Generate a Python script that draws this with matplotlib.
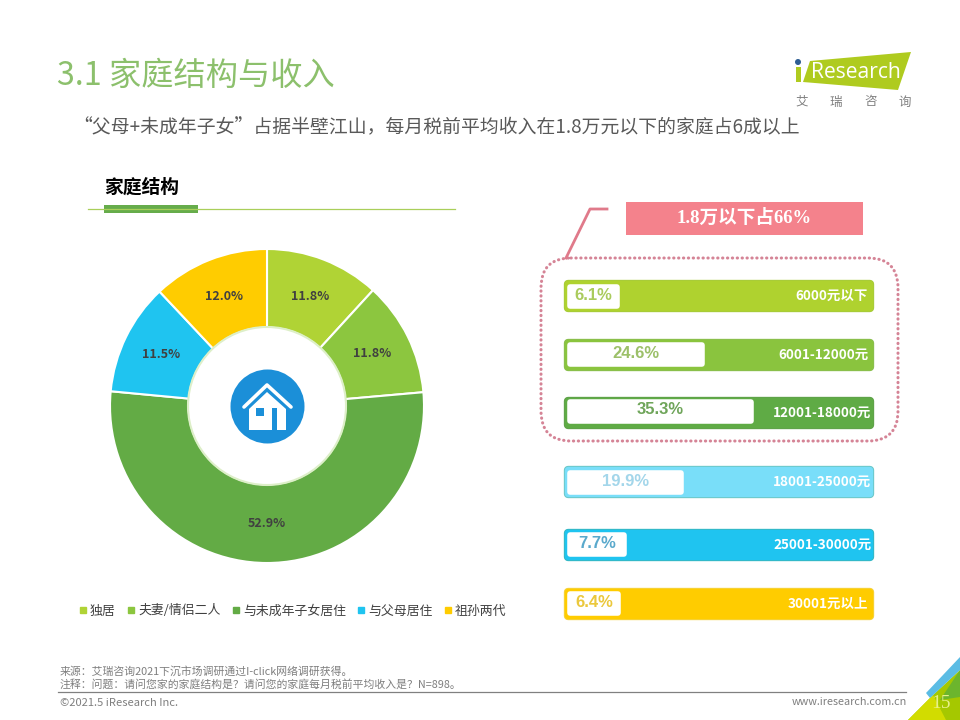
import matplotlib
matplotlib.use("Agg")
import matplotlib.pyplot as plt
from matplotlib.lines import Line2D
from matplotlib.patches import Circle, FancyBboxPatch, Polygon, Rectangle

plt.rcParams['font.family'] = ['Noto Sans CJK SC', 'DejaVu Sans']

# data
family_labels = ['独居', '夫妻/情侣二人', '与未成年子女居住', '与父母居住', '祖孙两代']
family_values = [11.8, 11.8, 52.9, 11.5, 12.0]
family_colors = ['#B0D335', '#8CC63F', '#63AB45', '#1FC4F0', '#FFCC00']

income_labels = ['6000元以下', '6001-12000元', '12001-18000元',
                 '18001-25000元', '25001-30000元', '30001元以上']
income_values = [6.1, 24.6, 35.3, 19.9, 7.7, 6.4]
income_colors = ['#AFD22F', '#8AC43E', '#5FAB45', '#79DEF9', '#1FC4F0', '#FFCC00']
income_borders = ['#A8CC3A', '#8ABF4E', '#5FA24A', '#6CC8C8', '#35B8C4', '#F5D23C']
income_text = ['#AACB5C', '#9CC069', '#6FA55A', '#A3D6EA', '#5AA9CC', '#EBC83C']

W, H = 960, 720
fig = plt.figure(figsize=(9.6, 7.2), dpi=100)
ax = fig.add_axes([0, 0, 1, 1])
ax.set_xlim(0, W)
ax.set_ylim(H, 0)
ax.axis('off')


def px_axes(x0, y0, x1, y1):
    return fig.add_axes([x0 / W, 1 - y1 / H, (x1 - x0) / W, (y1 - y0) / H])


# header
ax.text(57, 76, '3.1 家庭结构与收入', fontsize=23.2, color='#8CC06C', va='center')
ax.text(73, 128, '“父母+未成年子女”占据半壁江山，每月税前平均收入在1.8万元以下的家庭占6成以上',
        fontsize=13.55, color='#595959', va='center')

# logo
ax.add_patch(Polygon([(810, 61), (911, 52), (898, 90), (803, 82)], color='#AFCB1F', lw=0))
ax.add_patch(Circle((798, 62), 3, color='#2F5E93', lw=0))
ax.add_patch(Rectangle((796, 67), 4.5, 15, color='#AFCB1F', lw=0))
ax.text(811, 72, 'Research', fontsize=15.2, color='white', va='center',
        family=['Open Sans', 'DejaVu Sans'])
for x, ch in zip([802, 836, 871, 905], '艾瑞咨询'):
    ax.text(x, 102, ch, fontsize=9, color='#7F7F7F', ha='center', va='center')

# section title
ax.text(104, 187, '家庭结构', fontsize=13.5, fontweight='bold', color='black', va='center')
ax.plot([88, 455], [209, 209], color='#A9CF5A', lw=0.9)
ax.add_patch(Rectangle((104, 205), 94, 8, color='#66AC4B', lw=0))

# donut
pie_ax = px_axes(110, 249, 424, 563)
wedges, _, autotexts = pie_ax.pie(
    family_values, colors=family_colors, startangle=90, counterclock=False,
    radius=1, autopct='%.1f%%', pctdistance=0.75,
    wedgeprops={'width': 0.5, 'edgecolor': 'white', 'linewidth': 1.5},
    textprops={'fontsize': 9, 'fontweight': 'bold', 'color': '#404040'})
pie_ax.set_xlim(-1, 1)
pie_ax.set_ylim(-1, 1)
pie_ax.patch.set_alpha(0)

# icon in the hole
icon_ax = px_axes(110, 249, 424, 563)
icon_ax.set_xlim(110, 424)
icon_ax.set_ylim(563, 249)
icon_ax.axis('off')
icon_ax.add_patch(Circle((267, 406), 79, facecolor='white', edgecolor='#DDEFC8', lw=1.5))
icon_ax.add_patch(Circle((267.5, 406.5), 37, color='#1B8FD8', lw=0))
icon_ax.add_patch(Polygon([(267, 392), (286, 409), (286, 430), (249, 430), (249, 409)],
                          color='white', lw=0))
icon_ax.plot([244, 267, 291], [407, 385, 407], color='white', lw=2.6, solid_capstyle='round')
icon_ax.add_patch(Rectangle((256, 408), 8, 8, color='#1B8FD8', lw=0))
icon_ax.add_patch(Rectangle((272, 408), 5, 22, color='#1B8FD8', lw=0))

# legend
handles = [Line2D([], [], marker='s', ls='', color=c, markersize=5) for c in family_colors]
fig.legend(handles, family_labels, loc='center left', bbox_to_anchor=(70 / W, 1 - 611 / H),
           ncol=5, frameon=False, fontsize=9.3, labelcolor='#404040', handletextpad=0.05,
           columnspacing=0.68, borderpad=0, handlelength=1.0)

# income bars: x is percent, y is pixels because the rows are not evenly spaced
bar_ax = px_axes(560, 270, 880, 630)
zero_px, px_per_unit = 589, 4.6
bar_ax.set_xlim((560 - zero_px) / px_per_unit, (880 - zero_px) / px_per_unit)
bar_ax.set_ylim(630, 270)
bar_ax.axis('off')
track_y = [296, 354.5, 413, 481.5, 545, 603.5]
fill_y = [296, 354.5, 411, 482, 544.5, 603.5]
start = -4.2
track_left = (568 - zero_px) / px_per_unit
track_width = (870 - 568) / px_per_unit
bar_ax.barh(track_y, track_width, left=track_left, height=24, color=income_borders,
            edgecolor=income_borders, linewidth=6, joinstyle='round')
bar_ax.barh(track_y, track_width, left=track_left, height=24, color=income_colors,
            edgecolor=income_colors, linewidth=4.5, joinstyle='round')
bar_ax.barh(fill_y, [v - start for v in income_values], left=start, height=19,
            color='white', edgecolor='white', linewidth=4, joinstyle='round')
for v, y, c in zip(income_values, fill_y, income_text):
    bar_ax.text((v + start) / 2, y - 1, f'{v}%', fontsize=12, fontweight='bold', color=c,
                ha='center', va='center', family=['Liberation Sans', 'DejaVu Sans'])

# labels on top of the bars
top_ax = px_axes(0, 0, W, H)
top_ax.set_xlim(0, W)
top_ax.set_ylim(H, 0)
top_ax.axis('off')
label_x = [868, 869, 871, 871, 872, 868]
for x, y, s in zip(label_x, track_y, income_labels):
    top_ax.text(x, y, s, fontsize=9.7, fontweight='bold', color='white', ha='right', va='center')

# callout
ax.add_patch(FancyBboxPatch((541, 258), 357, 183, boxstyle='round,pad=0,rounding_size=30',
                            facecolor='none', edgecolor='#D58496', lw=2.2, ls=(0, (0.1, 1.5)),
                            capstyle='round'))
ax.plot([566, 590, 607], [258, 209, 209], color='#E07A8A', lw=2)
ax.add_patch(Rectangle((626, 202), 237, 33, color='#F4828C', lw=0))
ax.text(744, 218, '1.8万以下占66%', fontsize=13.4, fontweight='bold', color='white',
        ha='center', va='center', family=['Liberation Serif', 'Noto Sans CJK SC'])

# footer
ax.text(60, 671, '来源：艾瑞咨询2021下沉市场调研通过I-click网络调研获得。', fontsize=7.8,
        color='#7F7F7F', va='center')
ax.text(60, 684, '注释：问题：请问您家的家庭结构是？请问您的家庭每月税前平均收入是？N=898。', fontsize=7.8,
        color='#7F7F7F', va='center')
ax.plot([58, 906], [692, 692], color='#808080', lw=0.9)
ax.text(60, 703, '©2021.5 iResearch Inc.', fontsize=8, color='#7F7F7F', va='center')
ax.text(907, 702, 'www.iresearch.com.cn', fontsize=7.8, color='#7F7F7F', ha='right', va='center')

# corner decoration
ax.add_patch(Polygon([(908, 720), (933, 695), (960, 670), (960, 720)], color='#A5C800', lw=0))
ax.add_patch(Polygon([(940, 700), (960, 670), (960, 697)], color='#6CB52D', lw=0))
ax.add_patch(Polygon([(908, 720), (933, 695), (946, 720)], color='#D2DC00', lw=0))
ax.add_patch(Polygon([(926, 693), (960, 657), (960, 670), (930, 698)], color='#5BBCE4', lw=0))
ax.text(941, 703, '15', fontsize=14, color='#E8F08A', ha='center', va='center',
        family=['Liberation Serif', 'DejaVu Serif'])

fig.savefig('out.png', dpi=100)
